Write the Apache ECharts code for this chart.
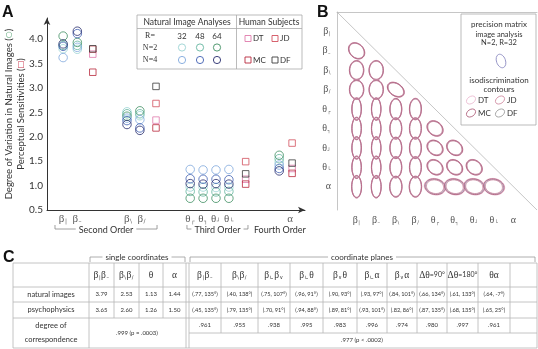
<!DOCTYPE html>
<html>
<head>
<meta charset="utf-8">
<script src="https://cdn.jsdelivr.net/npm/echarts@6/dist/echarts.min.js"></script>
<style>
  html, body { margin: 0; padding: 0; background: #fff; }
  #chart { width: 538px; height: 349px; }
</style>
</head>
<body>
<div id="chart"></div>
<script>
// ---- panel A data ----
const featureLabels = ['β|', 'β–', 'β\\', 'β/', 'θ┌', 'θ┐', 'θ┘', 'θ└', 'α'];
const featureX = [1.25, 2.35, 6.2, 7.2, 11.1, 12.1, 13.1, 14.1, 18.0];
const tickX = [1.25, 2.35, 6.3, 7.35, 11.1, 12.1, 13.1, 14.1, 18.85];
const humanX = [3.55, 8.45, 15.4, 19.0];

const n2r32 = [3.80, 3.79, 2.51, 2.43, 0.97, 0.97, 0.96, 0.97, 1.48];
const n2r48 = [3.87, 3.87, 2.47, 2.47, 0.88, 0.87, 0.87, 0.88, 1.55];
const n2r64 = [4.06, 3.93, 2.42, 2.53, 0.74, 0.74, 0.74, 0.74, 1.62];
const n4r32 = [3.62, 3.83, 2.38, 2.35, 1.33, 1.32, 1.32, 1.33, 1.42];
const n4r48 = [3.85, 4.11, 2.33, 2.18, 1.14, 1.13, 1.13, 1.12, 1.35];
const n4r64 = [3.90, 4.16, 2.25, 2.13, 1.04, 1.03, 1.04, 1.03, 1.30];

const subjDT = [3.69, 2.34, 1.13, 1.35];
const subjJD = [3.79, 2.68, 1.49, 1.87];
const subjMC = [3.32, 2.18, 1.03, 1.25];
const subjDF = [3.80, 3.03, 1.24, 1.46];

const orderNames = ['Second Order', 'Third Order', 'Fourth Order'];
const orderSpan = [[0.62, 8.53], [10.85, 15.58], [17.1, 19.0]];
const orderBracket = [true, true, false];

// ---- panel B data ----
const bLabels = ['β|', 'β–', 'β\\', 'β/', 'θ┌', 'θ┐', 'θ┘', 'θ└', 'α'];
// [col, row, semi-major, semi-minor, angle deg, subject spread]
const cells = [
  [1, 2, 0.45, 0.35, 135, 0.05],
  [1, 3, 0.48, 0.36, 90, 0.05], [2, 3, 0.48, 0.36, 90, 0.05],
  [1, 4, 0.48, 0.36, 90, 0.05], [2, 4, 0.48, 0.36, 90, 0.05], [3, 4, 0.46, 0.31, 145, 0.06],
  [1, 5, 0.56, 0.24, 90, 0.04], [2, 5, 0.56, 0.24, 90, 0.04], [3, 5, 0.53, 0.30, 90, 0.05], [4, 5, 0.53, 0.30, 90, 0.05],
  [1, 6, 0.56, 0.24, 90, 0.04], [2, 6, 0.56, 0.24, 90, 0.04], [3, 6, 0.53, 0.30, 90, 0.05], [4, 6, 0.53, 0.30, 90, 0.05],
  [5, 6, 0.43, 0.34, 140, 0.07],
  [1, 7, 0.56, 0.24, 90, 0.04], [2, 7, 0.56, 0.24, 90, 0.04], [3, 7, 0.53, 0.30, 90, 0.05], [4, 7, 0.53, 0.30, 90, 0.05],
  [5, 7, 0.43, 0.34, 140, 0.07], [6, 7, 0.43, 0.34, 140, 0.07],
  [1, 8, 0.56, 0.24, 90, 0.04], [2, 8, 0.56, 0.24, 90, 0.04], [3, 8, 0.53, 0.30, 90, 0.05], [4, 8, 0.53, 0.30, 90, 0.05],
  [5, 8, 0.43, 0.34, 140, 0.07], [6, 8, 0.43, 0.34, 140, 0.07], [7, 8, 0.43, 0.34, 140, 0.07],
  [1, 9, 0.56, 0.25, 90, 0.04], [2, 9, 0.56, 0.25, 90, 0.04], [3, 9, 0.52, 0.31, 90, 0.05], [4, 9, 0.52, 0.31, 90, 0.05],
  [5, 9, 0.50, 0.38, 168, 0.12], [6, 9, 0.50, 0.38, 168, 0.12], [7, 9, 0.50, 0.38, 168, 0.12], [8, 9, 0.50, 0.38, 168, 0.12]
];
const diagonal = [[0, 0], [10.2, 10.2]];

// ---- panel C data ----
const singleHeads = ['β|β–', 'β\\β/', 'θ', 'α'];
const singleNatural = ['3.79', '2.53', '1.13', '1.44'];
const singlePsycho = ['3.65', '2.60', '1.26', '1.50'];
const singleCorr = '.999 (p = .0003)';
const planeHeads = ['β|β–', 'β\\β/', 'β∟β∨', 'β∟θ', 'β∨θ', 'β∟α', 'β∨α', 'Δθ=90°', 'Δθ=180°', 'θα'];
const planeNatural = ['(.77, 135°)', '(.40, 138°)', '(.75, 107°)', '(.96, 91°)', '(.90, 93°)', '(.93, 97°)', '(.84, 101°)', '(.66, 134°)', '(.61, 133°)', '(.64, -7°)'];
const planePsycho = ['(.45, 135°)', '(.79, 135°)', '(.70, 91°)', '(.94, 88°)', '(.89, 81°)', '(.93, 101°)', '(.82, 86°)', '(.87, 135°)', '(.68, 135°)', '(.65, 25°)'];
const planeCorr = ['.961', '.955', '.938', '.995', '.983', '.996', '.974', '.980', '.997', '.961'];
const planeTotal = '.977 (p < .0002)';
const rowNames = ['natural images', 'psychophysics'];

const SANS = 'Lato';
const SERIF = 'Liberation Serif';
const GREEK = 'βθαΔ';
const SUBS = '|–\\/┌┐┘└∟∨';

function toRich(str) {
    let out = '';
    for (const ch of str) {
        if (GREEK.includes(ch)) out += '{g|' + ch + '}';
        else if (SUBS.includes(ch)) out += '{s|' + ch + '}';
        else out += '{t|' + ch + '}';
    }
    return out;
}

function richStyle(size, color) {
    return {
        g: { fontFamily: SERIF, fontSize: size, color: color },
        s: { fontFamily: 'DejaVu Sans', fontSize: Math.round(size * 0.5), color: color, verticalAlign: 'bottom', padding: [0, 0.5, 0, 0.5] },
        t: { fontFamily: SANS, fontSize: Math.round(size * 0.72), color: color }
    };
}

const chart = echarts.init(document.getElementById('chart'));

// graphic helpers
const gfx = [];
function line(x1, y1, x2, y2, color, w) {
    gfx.push({ type: 'line', silent: true, z: 20, shape: { x1, y1, x2, y2 },
        style: { stroke: color || '#b5b5b5', lineWidth: w || 0.8 } });
}
function txt(x, y, text, size, extra) {
    gfx.push({ type: 'text', silent: true, z: 22, x, y,
        style: Object.assign({ text, fontSize: size, fontFamily: SANS, fill: '#333', align: 'center', verticalAlign: 'middle' }, extra || {}) });
}
function richTxt(x, y, text, size, color) {
    txt(x, y, toRich(text), size, { rich: richStyle(size, color || '#333') });
}

// panel letters
txt(2, 13, 'A', 16, { fontFamily: 'Liberation Sans', fontWeight: 'bold', align: 'left', fill: '#111' });
txt(317, 13, 'B', 16, { fontFamily: 'Liberation Sans', fontWeight: 'bold', align: 'left', fill: '#111' });
txt(3, 258, 'C', 16, { fontFamily: 'Liberation Sans', fontWeight: 'bold', align: 'left', fill: '#111' });

// ---- legend box panel A ----
const circleColors = {
    n2r32: '#9ad3d3', n2r48: '#62b49e', n2r64: '#3f8f62',
    n4r32: '#7ea7dc', n4r48: '#3f5fb2', n4r64: '#252a6c'
};
const subjColors = { DT: '#e07aac', JD: '#d2505e', MC: '#b8283c', DF: '#3c3c3c' };

gfx.push({ type: 'rect', silent: true, z: 19, shape: { x: 137, y: 15, width: 165, height: 54 },
    style: { fill: '#fff', stroke: '#aaa', lineWidth: 0.8 } });
line(137, 28.5, 302, 28.5, '#aaa');
line(236.5, 15, 236.5, 69, '#aaa');
txt(187, 22, 'Natural Image Analyses', 8.5);
txt(269, 22, 'Human Subjects', 8.5);
txt(150, 36, 'R=', 8, { fontFamily: SERIF });
txt(150, 47.5, 'N=2', 8, { fontFamily: SERIF });
txt(150, 60, 'N=4', 8, { fontFamily: SERIF });
[['32', 182], ['48', 200], ['64', 217]].forEach(([t, x]) => txt(x, 36, t, 8));
[['n2r32', 182, 47.5], ['n2r48', 200, 47.5], ['n2r64', 217, 47.5],
 ['n4r32', 182, 60], ['n4r48', 200, 60], ['n4r64', 217, 60]].forEach(([k, x, y]) => {
    gfx.push({ type: 'circle', silent: true, z: 21, shape: { cx: x, cy: y, r: 3.6 },
        style: { fill: 'none', stroke: circleColors[k], lineWidth: 0.9 } });
});
[['DT', 248, 38.5], ['JD', 275, 38.5], ['MC', 248, 60], ['DF', 275, 60]].forEach(([k, x, y]) => {
    gfx.push({ type: 'rect', silent: true, z: 21, shape: { x: x - 3, y: y - 3, width: 6, height: 6 },
        style: { fill: 'none', stroke: subjColors[k], lineWidth: 0.9 } });
    txt(x + 5, y, k, 8, { align: 'left' });
});

// ---- legend box panel B ----
gfx.push({ type: 'rect', silent: true, z: 19, shape: { x: 461, y: 14, width: 75, height: 111 },
    style: { fill: '#fff', stroke: '#aaa', lineWidth: 0.8 } });
txt(499, 24, 'precision matrix', 8);
txt(499, 35, 'image analysis', 7.5);
txt(499, 43, 'N=2, R=32', 7.5);
gfx.push({ type: 'ellipse', silent: true, z: 21, x: 501, y: 61, rotation: 0.35,
    shape: { cx: 0, cy: 0, rx: 4.5, ry: 7 }, style: { fill: 'none', stroke: '#8a88c0', lineWidth: 0.8 } });
txt(499, 80, 'isodiscrimination', 8);
txt(499, 89, 'contours', 8);
[['DT', 471, 100, '#ebbad0'], ['JD', 500, 100, '#cf8aa0'], ['MC', 471, 113, '#b0607c'], ['DF', 500, 113, '#9a9a9a']].forEach(([k, x, y, c]) => {
    gfx.push({ type: 'ellipse', silent: true, z: 21, x: x, y: y, rotation: 0.6,
        shape: { cx: 0, cy: 0, rx: 5, ry: 3.5 }, style: { fill: 'none', stroke: c, lineWidth: 0.8 } });
    txt(x + 7, y, k, 8, { align: 'left' });
});

// ---- table panel C ----
const colX = [13, 89, 114, 139, 163, 186];
const planeX = [189, 221, 258, 290, 323, 357, 387, 417, 447, 478, 510, 537];
const rowY = [263, 287, 302, 318, 348];
const midY = 333;

// bracket headers
line(90, 257, 185, 257, '#999'); line(90, 257, 90, 262, '#999'); line(185, 257, 185, 262, '#999');
txt(137, 257, 'single coordinates', 8, { backgroundColor: '#fff', padding: [0, 3] });
line(190, 257, 535, 257, '#999'); line(190, 257, 190, 262, '#999'); line(535, 257, 535, 262, '#999');
txt(362, 257, 'coordinate planes', 8, { backgroundColor: '#fff', padding: [0, 3] });

// outer frame and rows
rowY.forEach((y) => line(13, y, 537, y));
line(13, rowY[0], 13, rowY[4]);
line(537, rowY[0], 537, rowY[4]);
line(89, rowY[0], 89, rowY[4]);
line(186, rowY[0], 186, rowY[4]);
line(189, rowY[0], 189, rowY[4]);
for (let i = 2; i < colX.length - 1; i++) line(colX[i], rowY[0], colX[i], rowY[3]);
for (let i = 1; i < planeX.length - 1; i++) line(planeX[i], rowY[0], planeX[i], midY);
line(189, midY, 537, midY);

const rowMid = [(rowY[0] + rowY[1]) / 2, (rowY[1] + rowY[2]) / 2, (rowY[2] + rowY[3]) / 2];
txt(51, rowMid[1], rowNames[0], 7.5);
txt(51, rowMid[2], rowNames[1], 7.5);
txt(51, 326, 'degree of', 7.5);
txt(51, 340, 'correspondence', 7.5);
singleHeads.forEach((h, i) => {
    const cx = (colX[i + 1] + colX[i + 2]) / 2;
    richTxt(cx, rowMid[0], h, 9.5, '#333');
    txt(cx, rowMid[1], singleNatural[i], 6);
    txt(cx, rowMid[2], singlePsycho[i], 6);
});
txt(137, midY, singleCorr, 6);
planeHeads.forEach((h, i) => {
    const cx = (planeX[i] + planeX[i + 1]) / 2;
    richTxt(cx, rowMid[0], h, 9.5, '#333');
    txt(cx, rowMid[1], planeNatural[i], 5.6);
    txt(cx, rowMid[2], planePsycho[i], 5.6);
    txt(cx, (rowY[3] + midY) / 2, planeCorr[i], 6);
});
txt(362, (midY + rowY[4]) / 2, planeTotal, 6);

// ---- series ----
function circleSeries(name, vals) {
    return {
        name, type: 'scatter', xAxisIndex: 0, yAxisIndex: 0,
        data: vals.map((v, i) => [featureX[i], v]),
        symbol: 'circle', symbolSize: 8.5, silent: true,
        itemStyle: { color: 'rgba(0,0,0,0)', borderColor: circleColors[name], borderWidth: 1 }
    };
}
function squareSeries(name, vals) {
    return {
        name, type: 'scatter', xAxisIndex: 0, yAxisIndex: 0,
        data: vals.map((v, i) => [humanX[i], v]),
        symbol: 'rect', symbolSize: 6.5, silent: true,
        itemStyle: { color: 'rgba(0,0,0,0)', borderColor: subjColors[name], borderWidth: 1 }
    };
}

// drawn bottom to top: image analysis contour first, subject contours over it
const contourSet = [
    { k: 0, color: '#9a98c8' },
    { k: -0.5, color: '#b0a4ac' },
    { k: 1, color: '#ecbcd0' },
    { k: -1, color: '#d08ca4' },
    { k: 0.5, color: '#ac5a78' }
];

const axisRich = richStyle(11, '#333');
const bRich = richStyle(10, '#555');

const option = {
    animation: false,
    grid: [
        { left: 47, top: 18, width: 258, height: 192, containLabel: false, outerBoundsMode: 'none' },
        { left: 337, top: 12, width: 200, height: 198, containLabel: false, outerBoundsMode: 'none' }
    ],
    xAxis: [
        {
            gridIndex: 0, type: 'value', min: 0, max: 20,
            axisLine: { lineStyle: { color: '#333', width: 1 }, symbol: ['none', 'arrow'], symbolSize: [5, 7] },
            axisTick: { show: false }, axisLabel: { show: false }, splitLine: { show: false }
        },
        {
            gridIndex: 1, type: 'value', min: 0, max: 10.2, interval: 1,
            axisLine: { lineStyle: { color: '#b8b8b8', width: 0.8 } },
            axisTick: { show: false }, splitLine: { show: false },
            axisLabel: {
                margin: 5, showMaxLabel: false,
                formatter: (v) => { const s = bLabels[Math.round(v) - 1]; return s && Math.abs(v - Math.round(v)) < 1e-6 ? toRich(s) : ''; },
                rich: bRich
            }
        }
    ],
    yAxis: [
        {
            gridIndex: 0, type: 'value', min: 0.5, max: 4.43, interval: 0.5,
            axisLine: { lineStyle: { color: '#333', width: 1 }, symbol: ['none', 'arrow'], symbolSize: [5, 7] },
            axisTick: { show: false }, splitLine: { show: false },
            axisLabel: {
                margin: 4, color: '#333', fontFamily: SANS, fontSize: 10,
                formatter: (v) => (Math.abs(v * 2 - Math.round(v * 2)) < 1e-6 ? v.toFixed(1) : '')
            },
            name: 'Degree of Variation in Natural Images ({gc|○})\nPerceptual Sensitivities ({rs|□})',
            nameLocation: 'middle', nameRotate: 90, nameGap: 20, nameMoveOverlap: false,
            nameTextStyle: {
                fontFamily: SANS, fontSize: 9.5, color: '#333', lineHeight: 12,
                rich: {
                    gc: { color: '#4f9f6c', fontSize: 8, fontFamily: 'DejaVu Sans' },
                    rs: { color: '#c8344a', fontSize: 8, fontFamily: 'DejaVu Sans' }
                }
            }
        },
        {
            gridIndex: 1, type: 'value', min: 0, max: 10.2, interval: 1, inverse: true,
            axisLine: { lineStyle: { color: '#b8b8b8', width: 0.8 } },
            axisTick: { show: false }, splitLine: { show: false },
            axisLabel: {
                margin: 6, showMaxLabel: false,
                formatter: (v) => { const s = bLabels[Math.round(v) - 1]; return s && Math.abs(v - Math.round(v)) < 1e-6 ? toRich(s) : ''; },
                rich: bRich
            }
        }
    ],
    series: [
        circleSeries('n2r32', n2r32), circleSeries('n2r48', n2r48), circleSeries('n2r64', n2r64),
        circleSeries('n4r32', n4r32), circleSeries('n4r48', n4r48), circleSeries('n4r64', n4r64),
        squareSeries('DT', subjDT), squareSeries('JD', subjJD), squareSeries('MC', subjMC), squareSeries('DF', subjDF),
        {
            // x tick labels for panel A
            type: 'scatter', xAxisIndex: 0, yAxisIndex: 0, silent: true,
            data: tickX.map((x, i) => ({ value: [x, 0.5], name: featureLabels[i] })),
            symbol: 'circle', symbolSize: 1, itemStyle: { color: 'rgba(0,0,0,0)' },
            label: { show: true, position: 'bottom', distance: 3, formatter: (p) => toRich(p.name), rich: axisRich }
        },
        {
            type: 'line', xAxisIndex: 1, yAxisIndex: 1, data: diagonal, silent: true,
            symbol: 'none', lineStyle: { color: '#b8b8b8', width: 0.8 }
        },
        {
            type: 'custom', xAxisIndex: 1, yAxisIndex: 1, data: cells, silent: true, clip: false,
            renderItem: (params, api) => {
                const c = api.coord([api.value(0), api.value(1)]);
                const unit = api.size([1, 1])[0];
                const a = api.value(2) * unit, b = api.value(3) * unit;
                const rot = api.value(4) * Math.PI / 180;
                const sp = api.value(5);
                return {
                    type: 'group',
                    children: contourSet.map((cs) => ({
                        type: 'ellipse', x: c[0], y: c[1], rotation: rot,
                        shape: { cx: 0, cy: 0, rx: a * (1 + cs.k * sp), ry: b * (1 + cs.k * sp * 0.8) },
                        style: { fill: 'none', stroke: cs.color, lineWidth: 0.75 }
                    }))
                };
            }
        }
    ],
    graphic: { elements: gfx }
};

chart.setOption(option);

// order brackets under panel A axis
orderNames.forEach((name, i) => {
    const p0 = chart.convertToPixel({ gridIndex: 0 }, [orderSpan[i][0], 0.5]);
    const p1 = chart.convertToPixel({ gridIndex: 0 }, [orderSpan[i][1], 0.5]);
    const y = p0[1] + 19;
    if (orderBracket[i]) {
        line(p0[0], y, p1[0], y, '#888');
        line(p0[0], y, p0[0], y - 4, '#888');
        line(p1[0], y, p1[0], y - 4, '#888');
    }
    txt((p0[0] + p1[0]) / 2, y + 1, name, 9, { backgroundColor: '#fff', padding: [0, 3] });
});
chart.setOption({ graphic: { elements: gfx } });
</script>
</body>
</html>
